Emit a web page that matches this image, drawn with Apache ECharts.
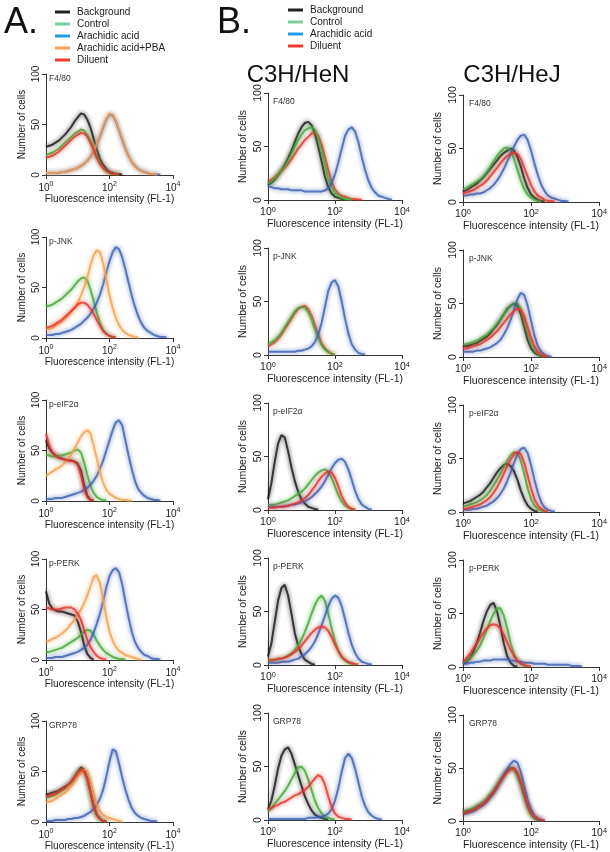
<!DOCTYPE html>
<html><head><meta charset="utf-8">
<script src="https://cdn.jsdelivr.net/npm/echarts@6/dist/echarts.min.js"></script>
<style>html,body{margin:0;padding:0;background:#fff}#c{width:610px;height:852px}</style>
</head><body><div id="c"></div>
<script>
// log10 of fluorescence intensity (bin centres)
const logFluor = [0.0,0.1,0.2,0.3,0.4,0.5,0.6,0.7,0.8,0.9,1.0,1.1,1.2,1.3,1.4,1.5,1.6,1.7,1.8,1.9,2.0,2.1,2.2,2.3,2.4,2.5,2.6,2.7,2.8,2.9,3.0,3.1,3.2,3.3,3.4,3.5,3.6,3.7,3.8,3.9,4.0];
const xTickExp = [0, 2, 4];
const yTicks = [0, 50, 100];
const markers = ['F4/80', 'p-JNK', 'p-eIF2\u03b1', 'p-PERK', 'GRP78'];
const namesA = ['Background', 'Control', 'Arachidic acid', 'Arachidic acid+PBA', 'Diluent'];
const namesB = ['Background', 'Control', 'Arachidic acid', 'Diluent'];

// ---- A. ----
const A_F480_bg   = [28,29,30,32,34,37,40,44,48,53,57,61,60,55,47,36,25,16,10,6,3,2,1,1,0.5];
const A_F480_ctrl = [20,21,22,24,26,29,32,35,38,41,43,45,44,40,34,26,18,12,7,4,2,1,1,0.5];
const A_F480_aa   = [2,2,2,2,2,3,3,4,5,6,7,9,11,14,18,23,30,38,47,55,60,59,53,44,35,26,19,13,9,6,4,3,2,1,1,0.5,0.5];
const A_F480_pba  = [2,2,2,2,2,3,3,4,5,6,7,9,11,14,18,24,31,39,48,56,61,60,54,45,36,27,19,13,9,6,4,3,2,1,1,0.5];
const A_F480_dil  = [17,18,19,21,23,26,29,32,35,38,40,42,41,38,32,25,17,11,7,4,2,1,1,0.5];

const A_JNK_ctrl = [31,32,33,35,37,39,42,45,48,52,56,59,60,57,48,37,25,15,8,4,2,1,0.5];
const A_JNK_aa   = [3,3,3,4,4,5,6,7,8,10,12,14,17,20,24,29,35,43,53,65,76,85,90,88,80,68,55,42,31,22,15,10,7,5,3,2,1,1,0.5];
const A_JNK_pba  = [8,9,10,12,14,16,19,22,26,30,35,42,50,60,72,82,87,85,74,58,42,30,20,13,8,5,3,2,1,0.5];
const A_JNK_dil  = [10,11,12,14,16,18,21,24,27,30,33,35,35,33,29,24,18,12,7,4,2,1,0.5];

const A_EIF_bg   = [60,52,48,45,43,42,41,40,40,39,37,30,16,5,1,0.5];
const A_EIF_ctrl = [46,45,44,44,45,45,46,47,48,50,51,48,38,26,15,8,4,2,1,0.5];
const A_EIF_aa   = [2,2,2,3,3,3,4,5,6,7,8,9,11,13,16,20,25,32,40,50,60,70,78,80,75,60,45,32,20,12,8,5,3,2,1,1,0.5];
const A_EIF_pba  = [25,27,29,31,33,35,38,42,46,52,58,64,68,70,67,55,42,28,18,11,7,5,3,2,1,1,0.5,0.5];
const A_EIF_dil  = [67,55,48,45,43,42,41,40,40,39,36,26,12,4,1,0.5];

const A_PERK_bg   = [68,56,51,49,48,48,47,46,45,44,38,28,15,6,2,0.5];
const A_PERK_ctrl = [8,8,9,10,11,12,14,16,18,20,22,25,28,30,29,25,19,14,10,7,5,3,2,1,1,0.5];
const A_PERK_aa   = [2,2,2,3,3,3,4,5,6,7,8,10,12,15,20,27,36,46,58,72,83,89,91,87,75,58,42,28,18,12,8,5,4,2,1,1,0.5];
const A_PERK_pba  = [18,19,21,22,24,26,29,32,36,40,45,50,56,64,73,82,84,76,60,42,28,19,13,9,7,5,4,3,2,1,0.5];
const A_PERK_dil  = [52,51,50,50,50,51,52,52,52,50,46,40,30,20,13,8,4,2,1,0.5];

const A_GRP_bg   = [27,28,29,30,31,33,35,37,40,45,50,54,52,44,30,16,7,3,1,0.5];
const A_GRP_ctrl = [24,25,26,27,29,31,33,36,39,44,49,52,50,42,29,15,7,3,1,0.5];
const A_GRP_aa   = [1,1,1,2,2,2,2,3,3,4,4,5,6,8,10,13,17,23,32,45,60,72,70,58,44,32,22,14,9,6,4,3,2,1,1,0.5];
const A_GRP_pba  = [19,20,21,23,25,27,29,32,36,40,45,49,52,50,40,28,17,11,7,5,4,3,2,1,0.5];
const A_GRP_dil  = [25,26,27,28,30,32,34,37,40,44,48,52,50,43,30,16,7,3,1,0.5];

// ---- B. C3H/HeN ----
const N_F480_bg   = [14,16,19,23,28,33,39,46,54,62,68,72,73,70,62,50,36,22,12,6,3,2,1,0.5];
const N_F480_ctrl = [15,17,20,24,28,32,37,43,50,56,61,65,67,68,66,58,46,33,20,12,6,4,2,1,1,0.5];
const N_F480_aa   = [13,12,11,11,10,10,10,9,9,9,9,8,8,8,8,8,8,9,11,16,24,35,48,60,66,68,64,54,40,28,18,11,7,4,3,2,1,0.5];
const N_F480_dil  = [17,19,21,24,27,30,34,38,43,48,52,56,59,62,63,60,52,40,28,17,10,6,4,3,2,1,1,0.5,0.5];

const N_JNK_ctrl = [10,12,14,17,21,26,31,36,41,44,45,44,40,33,24,16,9,5,3,1,0.5];
const N_JNK_aa   = [3,3,3,3,3,3,3,3,3,4,4,5,6,8,12,19,30,45,60,68,70,64,50,34,20,10,5,2,1,0.5];
const N_JNK_dil  = [8,10,12,15,19,24,29,34,39,43,45,46,43,37,28,19,11,6,3,1,0.5];

const N_EIF_bg   = [10,25,45,62,70,68,55,40,27,17,10,6,3,2,1,0.5];
const N_EIF_ctrl = [5,5,5,6,7,8,9,11,13,15,17,20,24,28,32,35,37,38,36,30,22,14,8,4,2,1,0.5];
const N_EIF_aa   = [3,3,3,3,3,4,4,5,5,6,7,8,10,12,15,18,22,27,33,39,44,47,48,45,38,28,18,10,5,3,1,0.5];
const N_EIF_dil  = [2,2,2,3,3,3,4,5,6,7,9,11,14,18,22,27,31,34,36,35,30,22,13,7,3,1,0.5];

const N_PERK_bg   = [8,20,40,60,72,75,65,48,30,18,10,5,3,1,0.5];
const N_PERK_ctrl = [4,4,5,5,6,7,9,11,14,18,24,31,39,48,56,62,65,60,48,34,22,13,7,4,2,1,0.5];
const N_PERK_aa   = [2,2,2,2,3,3,3,4,5,6,8,10,13,17,22,29,37,46,55,62,65,63,55,43,30,19,11,6,3,2,1,0.5];
const N_PERK_dil  = [5,5,5,6,6,7,8,10,12,15,18,22,26,30,33,35,36,35,32,26,19,13,8,5,3,2,1,0.5];

const N_GRP_bg   = [10,18,32,48,60,66,68,62,52,42,32,22,15,9,5,3,2,1,0.5];
const N_GRP_ctrl = [8,11,15,19,23,27,32,38,44,49,50,46,38,28,18,11,6,3,2,1,0.5];
const N_GRP_aa   = [1,1,1,1,1,1,1,1,1,1,1,1,2,2,2,3,3,4,6,10,18,30,45,58,62,58,48,35,22,13,7,4,2,1,0.5];
const N_GRP_dil  = [10,11,13,14,16,17,19,21,23,24,26,28,31,35,39,42,40,33,22,12,6,3,2,1,1,0.5];

// ---- B. C3H/HeJ ----
const J_F480_bg   = [10,11,13,15,17,20,23,27,31,35,39,43,46,48,50,48,42,33,22,13,7,4,2,1,0.5];
const J_F480_ctrl = [12,13,15,17,19,21,24,28,33,38,43,47,50,51,48,40,30,20,12,7,4,2,1,0.5];
const J_F480_aa   = [6,6,7,7,8,8,9,11,13,16,20,25,31,38,45,52,58,62,63,58,48,36,25,16,10,6,4,3,2,1,1,0.5];
const J_F480_dil  = [8,9,10,11,13,15,17,20,24,28,32,36,40,43,45,46,45,40,32,24,16,10,6,4,2,1,1,0.5];

const J_JNK_bg   = [10,10,11,12,13,15,17,19,22,26,30,35,40,45,48,50,48,40,28,16,8,4,2,1,0.5];
const J_JNK_ctrl = [12,12,13,14,15,17,19,21,24,27,31,35,40,44,48,50,50,45,34,22,12,6,3,1,0.5];
const J_JNK_aa   = [5,5,5,5,6,6,7,8,9,11,13,16,21,27,35,44,54,60,58,48,34,20,10,5,2,1,0.5];
const J_JNK_dil  = [8,8,9,10,11,12,14,16,18,21,24,28,32,36,40,43,45,44,38,28,18,10,5,2,1,0.5];

const J_EIF_bg   = [8,9,10,12,14,16,19,23,27,32,37,41,44,45,43,38,30,20,12,6,3,1,0.5];
const J_EIF_ctrl = [5,6,7,8,9,11,13,16,20,25,30,36,42,48,53,56,55,48,36,22,12,6,3,1,0.5];
const J_EIF_aa   = [2,2,2,3,3,4,5,6,8,10,13,17,22,29,37,46,54,59,60,55,44,30,18,9,4,2,1,0.5];
const J_EIF_dil  = [3,3,4,5,6,7,9,11,14,18,23,29,36,43,49,54,56,54,46,34,22,12,6,3,1,0.5];

const J_PERK_bg   = [3,5,8,14,22,32,43,52,58,60,52,38,22,10,4,1,0.5];
const J_PERK_ctrl = [4,6,8,11,15,20,27,35,43,50,55,55,48,36,22,12,6,3,1,0.5];
const J_PERK_aa   = [3,3,4,4,5,5,6,6,6,7,7,7,7,7,6,6,5,5,4,4,4,3,3,3,3,2,2,2,2,2,2,2,1,1,1,0.5];
const J_PERK_dil  = [5,8,12,17,22,27,32,36,39,40,39,36,30,23,16,10,6,3,2,1,0.5];

const J_GRP_bg   = [8,9,10,11,13,15,17,20,24,28,33,38,43,47,50,49,44,35,24,14,7,3,1,0.5];
const J_GRP_ctrl = [9,10,11,12,14,16,18,21,25,29,34,39,44,48,50,49,43,34,23,13,6,3,1,0.5];
const J_GRP_aa   = [6,7,8,9,11,13,15,18,22,26,31,37,43,49,54,57,55,46,33,20,11,5,2,1,0.5];
const J_GRP_dil  = [7,8,9,10,12,14,16,19,23,27,32,37,42,46,49,50,46,37,26,15,8,4,2,1,0.5];

// ---- panel contents (series per panel, in drawing order) ----
const colA = [
  {Background:A_F480_bg, Control:A_F480_ctrl, 'Arachidic acid':A_F480_aa, 'Arachidic acid+PBA':A_F480_pba, Diluent:A_F480_dil},
  {Control:A_JNK_ctrl, 'Arachidic acid':A_JNK_aa, 'Arachidic acid+PBA':A_JNK_pba, Diluent:A_JNK_dil},
  {Background:A_EIF_bg, Control:A_EIF_ctrl, 'Arachidic acid':A_EIF_aa, 'Arachidic acid+PBA':A_EIF_pba, Diluent:A_EIF_dil},
  {Background:A_PERK_bg, Control:A_PERK_ctrl, 'Arachidic acid':A_PERK_aa, 'Arachidic acid+PBA':A_PERK_pba, Diluent:A_PERK_dil},
  {Background:A_GRP_bg, Control:A_GRP_ctrl, 'Arachidic acid':A_GRP_aa, 'Arachidic acid+PBA':A_GRP_pba, Diluent:A_GRP_dil}
];
const colHeN = [
  {Background:N_F480_bg, Diluent:N_F480_dil, Control:N_F480_ctrl, 'Arachidic acid':N_F480_aa},
  {Diluent:N_JNK_dil, Control:N_JNK_ctrl, 'Arachidic acid':N_JNK_aa},
  {Background:N_EIF_bg, Control:N_EIF_ctrl, 'Arachidic acid':N_EIF_aa, Diluent:N_EIF_dil},
  {Background:N_PERK_bg, Control:N_PERK_ctrl, 'Arachidic acid':N_PERK_aa, Diluent:N_PERK_dil},
  {Background:N_GRP_bg, Control:N_GRP_ctrl, 'Arachidic acid':N_GRP_aa, Diluent:N_GRP_dil}
];
const colHeJ = [
  {Background:J_F480_bg, Control:J_F480_ctrl, 'Arachidic acid':J_F480_aa, Diluent:J_F480_dil},
  {Background:J_JNK_bg, Control:J_JNK_ctrl, 'Arachidic acid':J_JNK_aa, Diluent:J_JNK_dil},
  {Background:J_EIF_bg, Control:J_EIF_ctrl, 'Arachidic acid':J_EIF_aa, Diluent:J_EIF_dil},
  {Background:J_PERK_bg, Control:J_PERK_ctrl, 'Arachidic acid':J_PERK_aa, Diluent:J_PERK_dil},
  {Background:J_GRP_bg, Control:J_GRP_ctrl, 'Arachidic acid':J_GRP_aa, Diluent:J_GRP_dil}
];

// ---- styling / layout ----
const FONT = '"Liberation Sans", Arial, Helvetica, sans-serif';
const lineColor = {'Background':'#151515','Control':'#45a83a','Arachidic acid':'#3b5fb2','Arachidic acid+PBA':'#f4a04c','Diluent':'#e3322a'};
const legendColor = {'Background':'#222222','Control':'#78d09c','Arachidic acid':'#1d9fe4','Arachidic acid+PBA':'#f8a257','Diluent':'#ee3a2c'};
const layoutCols = [
  {cols: colA,   left: 46,  width: 127, tops: [74,237,400,559,721], height: 101, fs: 10, lblDx: 3, lblDy: 0, xGap: 17, yGap: 19, lm: 5},
  {cols: colHeN, left: 268, width: 134, tops: [93,248,403,558,713], height: 107, fs: 10.5, lblDx: 5, lblDy: 4, xGap: 19, yGap: 19, lm: 4},
  {cols: colHeJ, left: 463, width: 137, tops: [95,250,405,560,715], height: 107, fs: 10.5, lblDx: 6, lblDy: 4, xGap: 19, yGap: 19, lm: 4}
];

const grids = [], xAxes = [], yAxes = [], series = [], graphics = [];
let gi = 0;
layoutCols.forEach(L => {
  L.cols.forEach((panel, r) => {
    grids.push({left: L.left, top: L.tops[r], width: L.width, height: L.height, containLabel: false});
    xAxes.push({
      gridIndex: gi, type: 'value', min: xTickExp[0], max: xTickExp[xTickExp.length-1], interval: 2,
      axisLine: {show: true, onZero: false, lineStyle: {color: '#333', width: 1}},
      axisTick: {show: true, length: 4, lineStyle: {color: '#333'}},
      splitLine: {show: false},
      axisLabel: {
        margin: 6, showMinLabel: true, showMaxLabel: true, color: '#222',
        formatter: v => '{b|10}{s|' + v + '}',
        rich: {b: {fontSize: L.fs, fontFamily: FONT, color: '#222', verticalAlign: 'bottom'},
               s: {fontSize: L.fs*0.7, fontFamily: FONT, color: '#222', verticalAlign: 'bottom', padding: [0,0,5,0]}}
      },
      name: 'Fluorescence intensity (FL-1)', nameLocation: 'middle', nameGap: L.xGap,
      nameTextStyle: {fontSize: L.fs, fontFamily: FONT, color: '#222'}
    });
    yAxes.push({
      gridIndex: gi, type: 'value', min: yTicks[0], max: yTicks[yTicks.length-1], interval: 50,
      axisLine: {show: true, lineStyle: {color: '#333', width: 1}},
      axisTick: {show: true, length: 4, lineStyle: {color: '#333'}},
      splitLine: {show: false},
      axisLabel: {rotate: 90, margin: L.lm, fontSize: L.fs, fontFamily: FONT, color: '#222', showMinLabel: true, showMaxLabel: true},
      name: 'Number of cells', nameLocation: 'middle', nameGap: L.yGap,
      nameTextStyle: {fontSize: L.fs, fontFamily: FONT, color: '#222'}
    });
    Object.keys(panel).forEach(name => {
      const vals = panel[name];
      series.push({
        name: name, type: 'line', xAxisIndex: gi, yAxisIndex: gi, showSymbol: false, symbol: 'none',
        animation: false, silent: true,
        data: vals.map((v, i) => [logFluor[i], v]),
        lineStyle: {color: lineColor[name], width: 2, opacity: 0.8, shadowColor: lineColor[name], shadowBlur: 4},
        itemStyle: {color: lineColor[name]}
      });
    });
    graphics.push({type: 'text', left: L.left + L.lblDx, top: L.tops[r] + L.lblDy,
      style: {text: markers[r], fontSize: 8.5, fontFamily: FONT, fill: '#333'}});
    gi++;
  });
});

graphics.push({type: 'text', left: 4, top: 5, style: {text: 'A.', fontSize: 36, fontFamily: FONT, fill: '#111'}});
graphics.push({type: 'text', left: 217, top: 5, style: {text: 'B.', fontSize: 36, fontFamily: FONT, fill: '#111'}});
graphics.push({type: 'text', x: 298, y: 63, style: {text: 'C3H/HeN', fontSize: 24, fontFamily: FONT, fill: '#111', textAlign: 'center'}});
graphics.push({type: 'text', x: 512, y: 63, style: {text: 'C3H/HeJ', fontSize: 24, fontFamily: FONT, fill: '#111', textAlign: 'center'}});

const mkLegend = (names, left, top) => ({
  orient: 'vertical', left: left, top: top, itemGap: 2, itemWidth: 15, itemHeight: 3, icon: 'rect',
  selectedMode: false,
  textStyle: {fontSize: 10, fontFamily: FONT, color: '#222', padding: [0,0,0,2]},
  data: names.map(n => ({name: n, itemStyle: {color: legendColor[n]}}))
});

const chart = echarts.init(document.getElementById('c'), null, {renderer: 'canvas'});
chart.setOption({
  backgroundColor: '#ffffff',
  animation: false,
  legend: [mkLegend(namesA, 50, 2), mkLegend(namesB, 283, 0)],
  grid: grids, xAxis: xAxes, yAxis: yAxes, series: series, graphic: graphics
});
</script></body></html>
